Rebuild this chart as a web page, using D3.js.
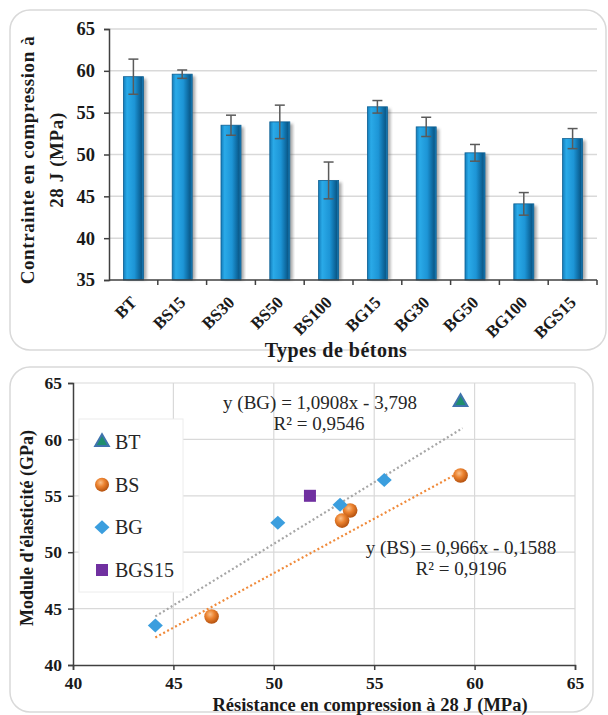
<!DOCTYPE html>
<html>
<head>
<meta charset="utf-8">
<script src="https://cdn.jsdelivr.net/npm/d3@7"></script>
<style>
  body { margin: 0; background: #fff; }
  svg text { font-family: "Liberation Serif", "Times New Roman", serif; }
  .bold { font-weight: bold; fill: #1a1a1a; }
</style>
</head>
<body>
<div class="chart"></div>
<script>
// ---- data: bar chart (compressive strength at 28 days) ----
var types = ["BT", "BS15", "BS30", "BS50", "BS100", "BG15", "BG30", "BG50", "BG100", "BGS15"];
var strength = [59.3, 59.6, 53.5, 53.9, 46.9, 55.7, 53.3, 50.2, 44.1, 51.9];
var strengthErr = [2.1, 0.5, 1.2, 2.0, 2.2, 0.75, 1.15, 1.0, 1.35, 1.2];
var barTicks = [35, 40, 45, 50, 55, 60, 65];

// ---- data: scatter (elastic modulus vs strength) ----
var btX = [59.3], btY = [63.3];
var bsX = [59.3, 53.8, 53.4, 46.9], bsY = [56.8, 53.7, 52.8, 44.3];
var bgX = [55.5, 53.3, 50.2, 44.1], bgY = [56.4, 54.2, 52.6, 43.5];
var bgsX = [51.8], bgsY = [55.0];
var scatterTicks = [40, 45, 50, 55, 60, 65];
// trendlines as printed on the chart
var fitBG = { a: 1.0908, b: -3.798, x0: 44.1, x1: 59.4 };
var fitBS = { a: 0.966, b: -0.1588, x0: 44.1, x1: 59.4 };

var svg = d3.select(".chart").append("svg")
  .attr("width", 608).attr("height", 715);

var defs = svg.append("defs");
var barGrad = defs.append("linearGradient").attr("id", "barGrad")
  .attr("x1", "0%").attr("x2", "100%").attr("y1", "0%").attr("y2", "0%");
[["0%", "#137cba"], ["18%", "#2aaae8"], ["55%", "#1d95d6"], ["78%", "#0f6ea6"], ["90%", "#0b5a8a"], ["100%", "#1a86c6"]]
  .forEach(function(s) { barGrad.append("stop").attr("offset", s[0]).attr("stop-color", s[1]); });
var ballGrad = defs.append("radialGradient").attr("id", "ballGrad")
  .attr("cx", "40%").attr("cy", "35%").attr("r", "65%");
[["0%", "#f9c08a"], ["45%", "#ec8330"], ["100%", "#b5520f"]]
  .forEach(function(s) { ballGrad.append("stop").attr("offset", s[0]).attr("stop-color", s[1]); });
var blur = defs.append("filter").attr("id", "shadow");
blur.append("feGaussianBlur").attr("stdDeviation", 1.5);

// panel frames
svg.append("rect").attr("x", 10).attr("y", 10).attr("width", 596).attr("height", 340)
  .attr("rx", 20).attr("fill", "#fff").attr("stroke", "#d9d9d9").attr("stroke-width", 1.5);
svg.append("rect").attr("x", 10).attr("y", 367).attr("width", 583).attr("height", 345)
  .attr("rx", 20).attr("fill", "#fff").attr("stroke", "#d9d9d9").attr("stroke-width", 1.5);

// ================= top: bar chart =================
var barG = svg.append("g");
var xBand = d3.scaleBand().domain(types).range([109, 597]);
var yBar = d3.scaleLinear().domain([35, 65]).range([280, 29]);

barG.selectAll(".grid").data(barTicks.slice(1)).enter().append("line")
  .attr("x1", 109).attr("x2", 597)
  .attr("y1", function(d) { return yBar(d); }).attr("y2", function(d) { return yBar(d); })
  .attr("stroke", "#d9d9d9").attr("stroke-width", 1.5);

var barW = 20;
// shadows
barG.selectAll(".shadow").data(strength).enter().append("rect")
  .attr("x", function(d, i) { return xBand(types[i]) + xBand.bandwidth() / 2 - barW / 2 + 3; })
  .attr("y", function(d) { return yBar(d) + 2; })
  .attr("width", barW).attr("height", function(d) { return yBar(35) - yBar(d) - 2; })
  .attr("fill", "#555").attr("opacity", 0.5).attr("filter", "url(#shadow)");
barG.selectAll(".bar").data(strength).enter().append("rect")
  .attr("x", function(d, i) { return xBand(types[i]) + xBand.bandwidth() / 2 - barW / 2; })
  .attr("y", function(d) { return yBar(d); })
  .attr("width", barW).attr("height", function(d) { return yBar(35) - yBar(d); })
  .attr("fill", "url(#barGrad)").attr("stroke", "#0d5f92").attr("stroke-width", 0.8);

// error bars
var eb = barG.selectAll(".err").data(strength).enter().append("g")
  .attr("transform", function(d, i) { return "translate(" + (xBand(types[i]) + xBand.bandwidth() / 2) + ",0)"; });
eb.append("line").attr("x1", 0).attr("x2", 0)
  .attr("y1", function(d, i) { return yBar(d + strengthErr[i]); })
  .attr("y2", function(d, i) { return yBar(d - strengthErr[i]); });
eb.append("line").attr("x1", -5).attr("x2", 5)
  .attr("y1", function(d, i) { return yBar(d + strengthErr[i]); })
  .attr("y2", function(d, i) { return yBar(d + strengthErr[i]); });
eb.append("line").attr("x1", -5).attr("x2", 5)
  .attr("y1", function(d, i) { return yBar(d - strengthErr[i]); })
  .attr("y2", function(d, i) { return yBar(d - strengthErr[i]); });
eb.selectAll("line").attr("stroke", "#5a5a5a").attr("stroke-width", 1.5);

// axes
var yAxisTop = barG.append("g").attr("transform", "translate(109,0)")
  .call(d3.axisLeft(yBar).tickValues(barTicks).tickSize(5).tickPadding(9));
yAxisTop.selectAll("text").attr("class", "bold").style("font-size", "18.5px").attr("fill", "#1b2536");

var xAxisTop = barG.append("g").attr("transform", "translate(0,280)");
xAxisTop.append("line").attr("x1", 109).attr("x2", 597).attr("stroke", "#404040").attr("stroke-width", 1.5);
xAxisTop.selectAll(".tk").data(types).enter().append("line")
  .attr("x1", function(d) { return xBand(d) + xBand.bandwidth(); })
  .attr("x2", function(d) { return xBand(d) + xBand.bandwidth(); })
  .attr("y1", 0).attr("y2", 5).attr("stroke", "#404040").attr("stroke-width", 1.5);
xAxisTop.selectAll(".lbl").data(types).enter().append("text")
  .attr("class", "bold")
  .attr("transform", function(d) { return "translate(" + (xBand(d) + xBand.bandwidth() / 2 - 4) + ",15) rotate(-45)"; })
  .attr("text-anchor", "end").attr("dy", "0.7em")
  .style("font-size", "17px")
  .text(function(d) { return d; });
yAxisTop.select(".domain").attr("stroke", "#404040").attr("stroke-width", 1.5);
yAxisTop.selectAll(".tick line").attr("stroke", "#404040").attr("stroke-width", 1.5);

barG.append("text").attr("class", "bold")
  .attr("x", 336).attr("y", 357).attr("text-anchor", "middle")
  .style("font-size", "20px").style("letter-spacing", "0.5px")
  .text("Types de bétons");
barG.append("text").attr("class", "bold")
  .attr("transform", "translate(34,160) rotate(-90)").attr("text-anchor", "middle")
  .style("font-size", "19px").style("letter-spacing", "0.6px").text("Contrainte  en compression à");
barG.append("text").attr("class", "bold")
  .attr("transform", "translate(63,160) rotate(-90)").attr("text-anchor", "middle")
  .style("font-size", "19px").style("letter-spacing", "0.6px").text("28 J (MPa)");

// ================= bottom: scatter =================
var scG = svg.append("g");
var xS = d3.scaleLinear().domain([40, 65]).range([73, 575]);
var yS = d3.scaleLinear().domain([40, 65]).range([665, 383]);

scG.selectAll(".hg").data(scatterTicks.slice(1)).enter().append("line")
  .attr("x1", 73).attr("x2", 575)
  .attr("y1", function(d) { return yS(d); }).attr("y2", function(d) { return yS(d); })
  .attr("stroke", "#d9d9d9").attr("stroke-width", 1.2);
scG.selectAll(".vg").data(scatterTicks.slice(1)).enter().append("line")
  .attr("y1", 383).attr("y2", 665)
  .attr("x1", function(d) { return xS(d); }).attr("x2", function(d) { return xS(d); })
  .attr("stroke", "#d9d9d9").attr("stroke-width", 1.2);

var xAxisB = scG.append("g").attr("transform", "translate(0,665)")
  .call(d3.axisBottom(xS).tickValues(scatterTicks).tickSize(5).tickPadding(7));
var yAxisB = scG.append("g").attr("transform", "translate(73,0)")
  .call(d3.axisLeft(yS).tickValues(scatterTicks).tickSize(5).tickPadding(6));
[xAxisB, yAxisB].forEach(function(a) {
  a.select(".domain").attr("stroke", "#404040").attr("stroke-width", 1.5);
  a.selectAll(".tick line").attr("stroke", "#404040").attr("stroke-width", 1.5);
  a.selectAll("text").attr("class", "bold").style("font-size", "17.5px");
});

// trendlines
[[fitBG, "#a6a6a6"], [fitBS, "#f08a3a"]].forEach(function(f) {
  var fit = f[0];
  scG.append("line")
    .attr("x1", xS(fit.x0)).attr("y1", yS(fit.a * fit.x0 + fit.b))
    .attr("x2", xS(fit.x1)).attr("y2", yS(fit.a * fit.x1 + fit.b))
    .attr("stroke", f[1]).attr("stroke-width", 2.2).attr("stroke-dasharray", "2,2.5");
});

var tri = d3.symbol().type(d3.symbolTriangle).size(80);
var dia = "M0,-7L7.5,0L0,7L-7.5,0Z";

scG.selectAll(".bt").data(btX).enter().append("path")
  .attr("d", tri)
  .attr("transform", function(d, i) { return "translate(" + xS(d) + "," + yS(btY[i]) + ")"; })
  .attr("fill", "#1f8f6e").attr("stroke", "#3f73ad").attr("stroke-width", 2);
scG.selectAll(".bs").data(bsX).enter().append("circle")
  .attr("cx", function(d) { return xS(d); }).attr("cy", function(d, i) { return yS(bsY[i]); })
  .attr("r", 7.3).attr("fill", "url(#ballGrad)");
scG.selectAll(".bg").data(bgX).enter().append("path")
  .attr("d", dia)
  .attr("transform", function(d, i) { return "translate(" + xS(d) + "," + yS(bgY[i]) + ")"; })
  .attr("fill", "#3b9ede");
scG.selectAll(".bgs").data(bgsX).enter().append("rect")
  .attr("x", function(d) { return xS(d) - 6; }).attr("y", function(d, i) { return yS(bgsY[i]) - 6; })
  .attr("width", 12).attr("height", 12).attr("fill", "#7030a0");

// equations
var eq = [["y (BG) = 1,0908x - 3,798", 320, 409], ["R² = 0,9546", 319, 430],
          ["y (BS)  = 0,966x - 0,1588", 461, 554], ["R² = 0,9196", 461, 575]];
scG.selectAll(".eq").data(eq).enter().append("text")
  .attr("x", function(d) { return d[1]; }).attr("y", function(d) { return d[2]; })
  .attr("text-anchor", "middle").style("font-size", "19px").attr("fill", "#262626")
  .text(function(d) { return d[0]; });

// legend
var leg = scG.append("g");
leg.append("rect").attr("x", 79).attr("y", 419).attr("width", 104).attr("height", 173)
  .attr("fill", "#fff").attr("stroke", "#ececec").attr("stroke-width", 1);
var legItems = ["BT", "BS", "BG", "BGS15"];
var legY = d3.scalePoint().domain(legItems).range([442, 570]);
leg.append("path").attr("d", tri).attr("transform", "translate(102," + legY("BT") + ")")
  .attr("fill", "#1f8f6e").attr("stroke", "#3f73ad").attr("stroke-width", 2);
leg.append("circle").attr("cx", 102).attr("cy", legY("BS")).attr("r", 7).attr("fill", "url(#ballGrad)");
leg.append("path").attr("d", dia).attr("transform", "translate(102," + legY("BG") + ")").attr("fill", "#3b9ede");
leg.append("rect").attr("x", 96).attr("y", legY("BGS15") - 6).attr("width", 12).attr("height", 12).attr("fill", "#7030a0");
leg.selectAll(".lt").data(legItems).enter().append("text")
  .attr("x", 115).attr("y", function(d) { return legY(d); }).attr("dy", "0.35em")
  .style("font-size", "20px").attr("fill", "#262626")
  .text(function(d) { return d; });

scG.append("text").attr("class", "bold")
  .attr("x", 370).attr("y", 711).attr("text-anchor", "middle")
  .style("font-size", "18.5px").text("Résistance en compression à 28 J (MPa)");
scG.append("text").attr("class", "bold")
  .attr("transform", "translate(33,528) rotate(-90)").attr("text-anchor", "middle")
  .style("font-size", "18px").text("Module d'élasticité (GPa)");
</script>
</body>
</html>
